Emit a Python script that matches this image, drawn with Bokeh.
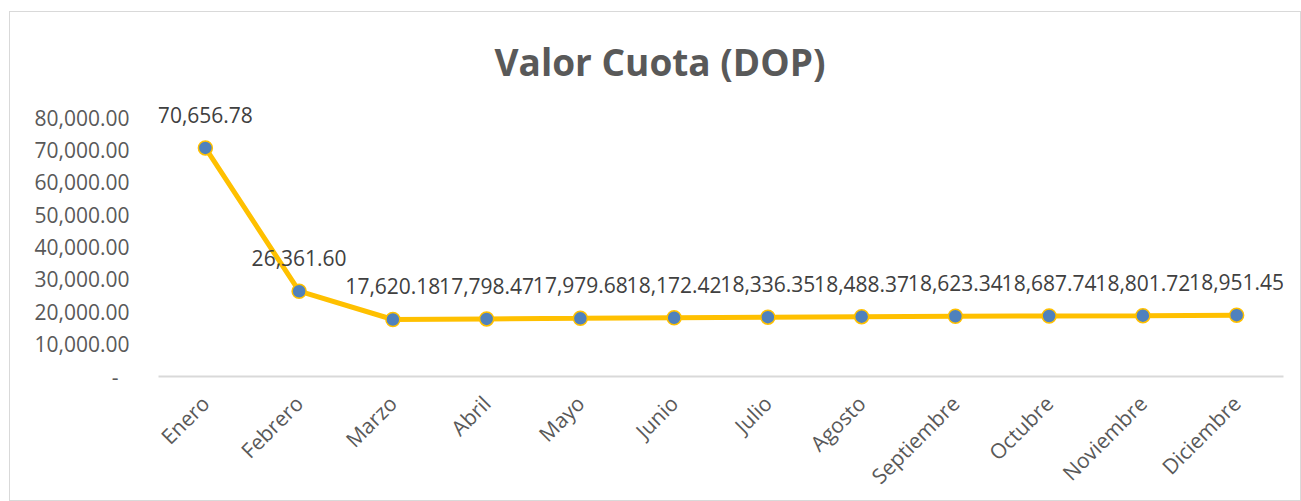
import math
from bokeh.plotting import figure
from bokeh.models import ColumnDataSource, FactorRange, Range1d, FixedTicker, Title
from bokeh.core.properties import value
from bokeh.embed import file_html
from bokeh.resources import INLINE

months = ["Enero", "Febrero", "Marzo", "Abril", "Mayo", "Junio", "Julio",
          "Agosto", "Septiembre", "Octubre", "Noviembre", "Diciembre"]
valor_cuota = [70656.78, 26361.60, 17620.18, 17798.47, 17979.68, 18172.42,
               18336.35, 18488.37, 18623.34, 18687.74, 18801.72, 18951.45]
y_ticks = [0, 10000, 20000, 30000, 40000, 50000, 60000, 70000, 80000]
y_tick_labels = ["-\u00a0\u00a0", "10,000.00", "20,000.00", "30,000.00", "40,000.00",
                 "50,000.00", "60,000.00", "70,000.00", "80,000.00"]
title_text = "Valor Cuota (DOP)"

FONT = "Open Sans"

src = ColumnDataSource(dict(
    x=months, y=valor_cuota,
    lbl=[f"{v:,.2f}" for v in valor_cuota],
))

p = figure(
    width=1292, height=490,
    x_range=FactorRange(*months), y_range=Range1d(0, 85000),
    output_backend="svg", toolbar_location=None,
    min_border_left=148, min_border_right=19, min_border_top=89, min_border_bottom=115,
    margin=(11, 0, 0, 9),
    styles={"border": "1px solid #d9d9d9"},
)
p.title = Title(text=title_text, align="left", offset=336,
                text_font=FONT, text_font_size="37px", text_font_style="bold",
                text_color="#595959", standoff=29)
p.outline_line_color = None
p.xgrid.grid_line_color = None
p.ygrid.grid_line_color = None

p.line("x", "y", source=src, line_color="#FFC000", line_width=5)
p.scatter("x", "y", source=src, size=14, fill_color="#4F81BD",
          line_color="#FFC000", line_width=1.5)
p.text("x", "y", text="lbl", source=src, text_align="center", text_baseline="middle",
       y_offset=-33, text_font=value(FONT), text_font_size="21px", text_color="#404040")

ya = p.yaxis[0]
ya.ticker = FixedTicker(ticks=y_ticks)
ya.major_label_overrides = {t: l for t, l in zip(y_ticks, y_tick_labels)}
ya.axis_line_color = None
ya.major_tick_line_color = None
ya.minor_tick_line_color = None
ya.major_tick_out = 0
ya.major_tick_in = 0
ya.major_label_standoff = 29
ya.major_label_text_font = FONT
ya.major_label_text_font_size = "21px"
ya.major_label_text_color = "#595959"

xa = p.xaxis[0]
xa.axis_line_color = "#d9d9d9"
xa.axis_line_width = 2
xa.major_tick_line_color = None
xa.minor_tick_line_color = None
xa.major_tick_out = 0
xa.major_tick_in = 0
xa.major_label_orientation = math.pi / 4
xa.major_label_standoff = 23
xa.major_label_text_font = FONT
xa.major_label_text_font_size = "21px"
xa.major_label_text_color = "#595959"

open("out.html", "w").write(file_html(p, INLINE))
